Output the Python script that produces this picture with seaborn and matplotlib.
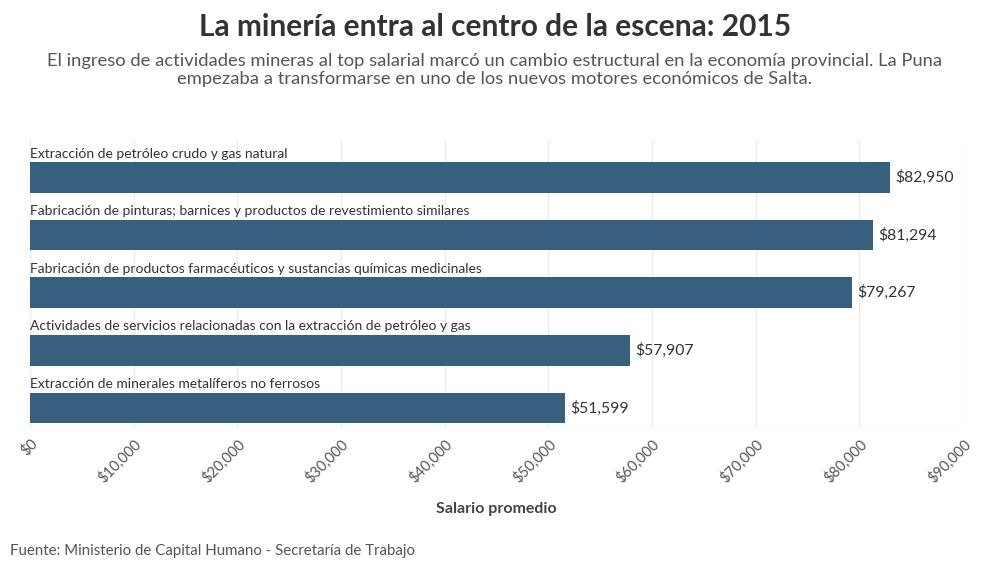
import matplotlib.pyplot as plt
import pandas as pd
import seaborn as sns
from matplotlib.ticker import FuncFormatter

actividades = [
    "Extracción de petróleo crudo y gas natural",
    "Fabricación de pinturas; barnices y productos de revestimiento similares",
    "Fabricación de productos farmacéuticos y sustancias químicas medicinales",
    "Actividades de servicios relacionadas con la extracción de petróleo y gas",
    "Extracción de minerales metalíferos no ferrosos",
]
salarios = [82950, 81294, 79267, 57907, 51599]
x_ticks = [0, 10000, 20000, 30000, 40000, 50000, 60000, 70000, 80000, 90000]

df = pd.DataFrame({"actividad": actividades, "salario": salarios})

sns.set_style("white")
plt.rcParams["font.family"] = ["Lato", "DejaVu Sans"]

fig = plt.figure(figsize=(9.9, 5.71), dpi=100)
ax = fig.add_axes([30 / 990, 1 - 428 / 571, 933 / 990, 288 / 571])

sns.barplot(data=df, x="salario", y="actividad", orient="h", color="#36607e",
            saturation=1, width=0.53, ax=ax, zorder=3, linewidth=0)

ax.set_xlim(0, 90000)
ax.set_ylim(4.35, -0.65)
ax.set_xticks(x_ticks)
ax.xaxis.set_major_formatter(FuncFormatter(lambda v, p: f"${v:,.0f}"))
ax.tick_params(axis="x", length=0, pad=6, labelsize=10.5, labelcolor="#555555")
plt.setp(ax.get_xticklabels(), rotation=45, ha="right", rotation_mode="anchor")
ax.set_yticks([])
ax.set_ylabel("")
ax.set_xlabel("Salario promedio", fontsize=11.5, fontweight="bold", color="#444444", labelpad=12)
ax.grid(axis="x", color="#ececec", linewidth=1, zorder=0)
ax.axhline(4.35, color="#ececec", linewidth=1, zorder=0)
for s in ax.spines.values():
    s.set_visible(False)

for i, (act, sal) in enumerate(zip(actividades, salarios)):
    ax.text(0, i - 0.31, act, ha="left", va="bottom", fontsize=10, color="#333333")
    ax.text(sal + 500, i, f"${sal:,}", ha="left", va="center", fontsize=11.3, color="#333333")

fig.text(0.5, 1 - 27 / 571, "La minería entra al centro de la escena: 2015", ha="center", va="center",
         fontsize=21.5, fontweight="bold", color="#333333")
fig.text(0.5, 1 - 70 / 571,
         "El ingreso de actividades mineras al top salarial marcó un cambio estructural en la economía provincial. La Puna\n"
         "empezaba a transformarse en uno de los nuevos motores económicos de Salta.",
         ha="center", va="center", fontsize=13.2, color="#555555", linespacing=1.1)
fig.text(10 / 990, 1 - 551 / 571, "Fuente: Ministerio de Capital Humano - Secretaría de Trabajo", ha="left",
         va="center", fontsize=10.8, color="#555555")

fig.savefig("out.png", dpi=100)
plt.close("all")
